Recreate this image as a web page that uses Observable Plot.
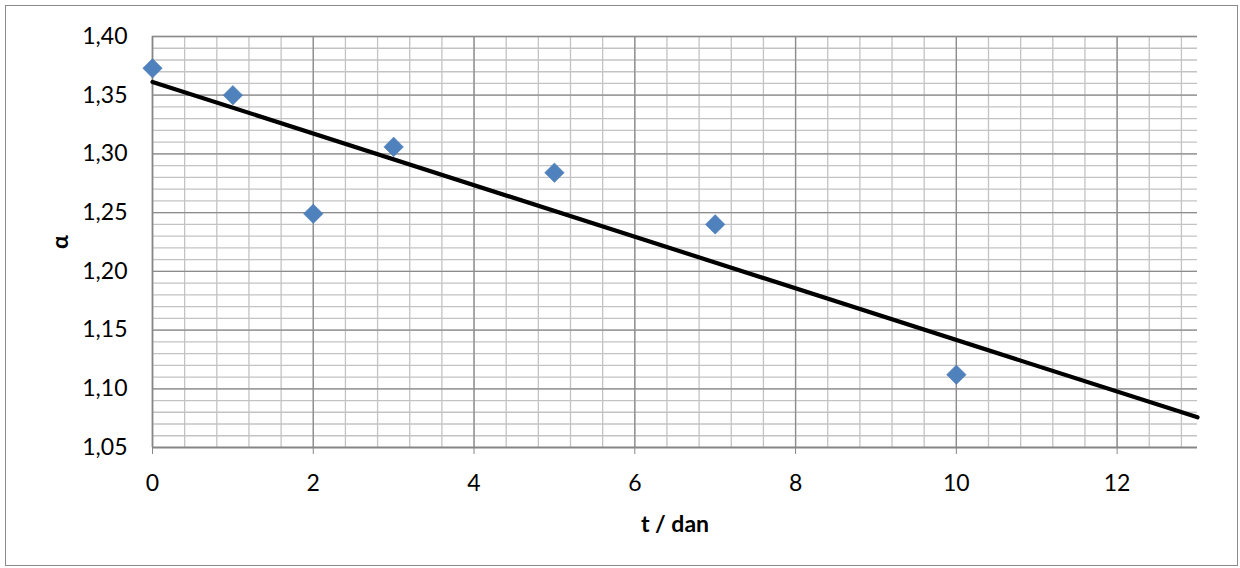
<!DOCTYPE html>
<html>
<head>
<meta charset="utf-8">
<script src="https://cdn.jsdelivr.net/npm/d3@7"></script>
<script src="https://cdn.jsdelivr.net/npm/@observablehq/plot@0.6"></script>
<style>
  html, body { margin: 0; padding: 0; background: #fff; }
  #wrap { position: relative; width: 1240px; height: 568px; overflow: hidden; }
  #border { position: absolute; left: 5px; top: 5px; width: 1233px; height: 561px; border: 1px solid #8a8a8a; box-sizing: border-box; pointer-events: none; }
  #chart { position: absolute; left: 0; top: 0; }
</style>
</head>
<body>
<div id="wrap"><div id="chart"></div><div id="border"></div></div>
<script>
// Data
const tValues = [0, 1, 2, 3, 5, 7, 10];
const alphaValues = [1.373, 1.350, 1.249, 1.306, 1.284, 1.240, 1.112];

// Axis setup
const xTicks = [0, 2, 4, 6, 8, 10, 12];
const yTicks = [1.05, 1.10, 1.15, 1.20, 1.25, 1.30, 1.35, 1.40];
const xDomain = [0, 13];
const yDomain = [1.05, 1.40];
const xLabel = "t / dan";
const yLabel = "α";

const points = tValues.map((t, i) => ({t, a: alphaValues[i]}));

// Linear trend line (least squares) computed from the data
const mt = d3.mean(tValues), ma = d3.mean(alphaValues);
const slope = d3.sum(tValues, (t, i) => (t - mt) * (alphaValues[i] - ma)) / d3.sum(tValues, t => (t - mt) ** 2);
const intercept = ma - slope * mt;
const trend = xDomain.map(t => ({t, a: intercept + slope * t}));

// Minor gridlines
const xMinor = d3.range(0, 33).map(i => +(i * 0.4).toFixed(2));
const yMinor = d3.range(0, 36).map(i => +(1.05 + i * 0.01).toFixed(2));

const fmt = d => d.toFixed(2).replace(".", ",");

const plot = Plot.plot({
  width: 1240,
  height: 568,
  marginLeft: 152,
  marginRight: 43,
  marginTop: 36,
  marginBottom: 121,
  style: {fontFamily: "Lato, 'Open Sans', sans-serif", fontSize: "23px", color: "#000", background: "transparent"},
  x: {domain: xDomain},
  y: {domain: yDomain},
  marks: [
    Plot.ruleX(xMinor, {stroke: "#c3c3c3", strokeWidth: 1.3}),
    Plot.ruleY(yMinor, {stroke: "#c3c3c3", strokeWidth: 1.3}),
    Plot.ruleX(xTicks, {stroke: "#8c8c8c", strokeWidth: 1.3}),
    Plot.ruleY(yTicks, {stroke: "#8c8c8c", strokeWidth: 1.3}),
    Plot.ruleX([xDomain[0]], {stroke: "#868686", strokeWidth: 1.5}),
    Plot.ruleY([yDomain[0]], {stroke: "#868686", strokeWidth: 1.5}),
    Plot.axisX(xTicks, {tickSize: 7, tickPadding: 20, stroke: "#868686", fontSize: 23, label: xLabel, labelAnchor: "center", labelArrow: "none", labelOffset: 84}),
    Plot.axisY(yTicks, {tickSize: 0, tickPadding: 25, tickFormat: fmt, fontSize: 23, label: yLabel, labelAnchor: "center", labelArrow: "none", labelOffset: 101}),
    Plot.line(trend, {x: "t", y: "a", stroke: "#000", strokeWidth: 4.2}),
    Plot.dot(points, {x: "t", y: "a", symbol: "diamond2", r: 8.8, fill: "#4f81bd", stroke: "#4a7ab3", strokeWidth: 0.5})
  ]
});
// bold axis labels
d3.select(plot).selectAll("g[aria-label='x-axis label'] text, g[aria-label='y-axis label'] text").attr("font-weight", "bold");
document.getElementById("chart").appendChild(plot);
</script>
</body>
</html>
